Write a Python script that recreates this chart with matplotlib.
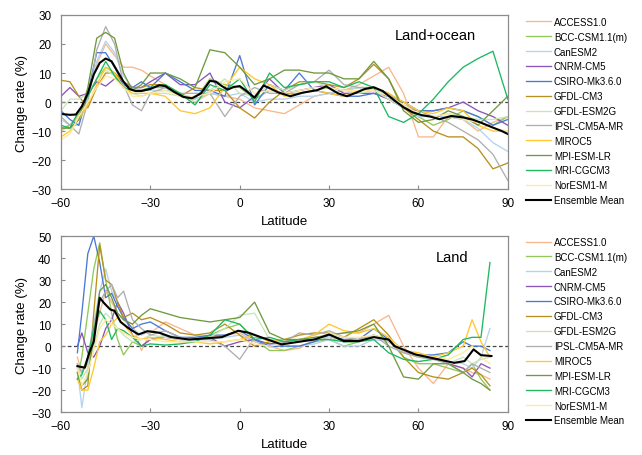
import numpy as np
import matplotlib
matplotlib.use("Agg")
import matplotlib.pyplot as plt

plt.rcParams['font.family'] = ['Liberation Sans', 'DejaVu Sans']


# ************************************************************
# Data: Land+ocean (top panel)
# ************************************************************

lat_lo = [-60, -57, -54, -51, -48, -45, -42, -39, -36, -33, -30,
          -25, -20, -15, -10, -5, 0, 5, 10, 15, 20, 25, 30, 35, 40,
          45, 50, 55, 60, 65, 70, 75, 80, 85, 90]

access_lo = [-10, -8, -5, 2, 13, 20, 16, 12, 12, 11, 9,
             6, 3, 0, 3, 2, 1, -2, -3, -4, -1, 2, 3, 4, 6,
             9, 12, 3, -12, -12, -5, -6, -10, -7, -5]
bcc_lo = [-9, -8, -4, 2, 8, 12, 10, 6, 4, 4, 5,
          5, 2, 1, 8, 6, 5, 1, 4, 3, 3, 4, 5, 4, 5,
          5, 2, -2, -5, -8, -6, -3, -5, -8, -5]
canesm_lo = [-6, -8, -8, 2, 14, 21, 17, 9, 5, 4, 4,
             4, 3, 1, 3, 2, 3, 0, 1, 1, 2, 2, 3, 4, 5,
             4, 3, -1, -5, -5, -5, -6, -9, -14, -17]
cnrm_lo = [2, 5, 2, 3, 7, 5.5, 8, 7, 5, 5, 7,
           10, 6, 6, 10, 0, -2, 2, 8, 3, 4, 5, 6, 3, 3,
           3, 1, -2, -3, -3, -2, 0, -3, -5, -8]
csiro_lo = [-3, -6, -8, 3, 17, 17, 12, 6, 5, 7, 5,
            10, 7, 4, 4, 2, 16, -1, 6, 4, 10, 4, 3, 2, 2,
            3, 2, 0, -3, -3, -2, -3, -5, -8, -6]
gfdlcm3_lo = [7.5, 7, 2, -2, 5, 10, 10, 7, 5, 5, 6,
              6, 2, 5, 4, 4, -2, -5.5, 0, 4, 7, 7, 6, 5, 8,
              13, 8, -2, -6, -10, -12, -12, -16, -23, -21]
gfdlesm_lo = [-3, 1, 1, 3, 8, 11, 9, 5, 3, 2, 3,
              3, 2, 0, 4, 8, 3, 2, 6, 4, 6, 7, 5, 4, 3,
              4, 1, -2, -4, -5, -4, -5, -6, -6, -5]
ipsl_lo = [-5, -8, -11, 0, 18, 26, 20, 6, -1, -3, 3,
           5, 3, 3, 3, -5, 2, 5, 3, 3, 6, 7, 11, 6, 5,
           5, 3, -1, -3, -5, -7, -10, -13, -18, -27]
miroc_lo = [-12, -10, -6, -1, 6, 12, 10, 5, 3, 3, 3,
            2, -3, -4, -2, 5, 12, 8, 6, 2, 3, 4, 3, 2, 4,
            5, 3, 0, -3, -4, -2, -3, -8, -10, -10]
mpi_lo = [-9, -9, -6, 5, 22, 24, 22, 10, 4, 6, 10,
          10, 8, 5, 18, 17, 12, 6, 8, 11, 11, 10, 10, 8, 8,
          14, 8, -3, -7, -6, -3, -5, -8, -3, 2]
mri_lo = [-8, -9, -3, 2, 8, 14, 9, 5, 4, 4, 5,
          6, 3, -1, 6, 4, 8, 0, 10, 5, 6, 7, 7, 5, 7,
          5, -5, -7, -4, 1, 7, 12, 15, 17.5, 1]
noresm_lo = [-13, -11, -5, 0, 5, 9, 8, 5, 2, 2, 3,
             4, 2, 2, 3, 7, 8, 3, 4, 3, 4, 5, 5, 4, 4,
             4, 2, -1, -4, -5, -4, -6, -7, -9, -10]

lat_mean_lo = [-60, -57, -55, -53, -51, -49, -47, -45, -43, -41, -39,
               -37, -35, -33, -30, -27, -25, -22, -19, -16, -13, -10,
               -8, -6, -4, -2, 0, 2, 5, 8, 10, 13, 17, 21, 26, 29,
               33, 36, 39, 42, 45, 48, 52, 55, 58, 61, 64, 67, 71,
               75, 78, 81, 85, 88, 90]
mean_lo = [-4.1, -4.4, -4.3, -1.5, 3, 9.5, 13.5, 15, 14, 10.5, 7,
           4.5, 3.8, 3.8, 4.5, 5.8, 5.5, 3.5, 1.8, 1.3, 3, 7.3,
           7, 5.5, 4.3, 5.2, 5.5, 4, 1.5, 5.7, 4.8, 3.3, 2, 3.2, 4.1, 5.4,
           3, 2, 3.2, 4.5, 5.1, 3.8, 0.5, -1.8, -3.5, -4.5, -5, -5.9, -4.8,
           -5.3, -6, -7.1, -8.8, -10, -11]


# ************************************************************
# Data: Land (bottom panel)
# ************************************************************

lat_land = [-54.5, -53, -51, -49, -47, -45, -43, -41, -39, -36, -33, -30,
            -25, -20, -15, -10, -5, 0, 5, 10, 15, 20, 25, 30, 35, 40,
            45, 50, 55, 60, 65, 70, 75, 78, 81, 84]

access_land = [-5, -12, -8, 5, 15, 25, 20, 15, 12, 10, -2, 6,
               11, 8, 5, 4, 5, 6, 2, 0, -2, -1, 3, 5, 6, 6,
               10, 14, 0, -10, -17, -8, -10, -12, -13, -15]
bcc_land = [-15, -5, 15, 35, 47, 30, 15, 3, -4, 2, 0, 3,
            5, 3, 3, 5, 8, 10, 3, -2, -2, 0, 2, 3, 0, 2,
            5, 3, -5, -8, -8, -10, -12, -8, -15, -20]
canesm_land = [-10, -28, -10, 10, 25, 35, 25, 20, 12, 8, 5, 7,
               5, 4, 3, 3, 4, 5, 2, 1, 0, 0, 1, 3, 0, 0,
               3, 2, -2, -5, -5, -7, -8, -10, -5, 8]
cnrm_land = [0, 6, -3, -5, 0, 8, 12, 20, 15, 5, 0, 3,
             4, 3, 3, 4, 0, 2, 3, 1, 2, 3, 3, 4, 2, 3,
             5, 2, -3, -4, -5, -8, -10, -14, -8, -10]
csiro_land = [-3, 15, 42, 50, 38, 22, 24, 18, 13, 8, 10, 11,
              7, 4, 4, 5, 5, 7, 3, 0, 0, 0, 2, 5, 3, 3,
              8, 3, -2, -4, -4, -3, 2, 0, 0, -2]
gfdlcm3_land = [-12, -20, -18, 15, 46, 30, 28, 20, 13, 15, 12, 13,
                10, 6, 5, 6, 10, 5, 0, 2, 3, 5, 6, 6, 4, 8,
                12, 5, -5, -12, -14, -15, -12, -10, -13, -18]
gfdlesm_land = [-8, -15, -10, 0, 10, 15, 12, 8, 5, 2, 3, 5,
                4, 3, 3, 4, 8, 14, 15, 3, 1, 2, 3, 4, 2, 3,
                5, 2, -3, -5, -6, -8, -5, -8, -6, -5]
ipsl_land = [-8, -12, -5, 10, 20, 25, 28, 22, 25, 12, 8, 5,
             7, 4, 3, 3, 0, -6, 4, 3, 2, 6, 5, 7, 4, 3,
             5, 0, -3, -5, -6, -8, -12, -8, -10, -12]
miroc_land = [-15, -20, -20, -10, 2, 5, 10, 13, 10, 5, 3, 4,
              3, 2, 2, 1, 2, 3, 5, 2, 3, 3, 5, 10, 7, 6,
              8, 4, -2, -3, -5, -3, 0, 12, 2, -5]
mpi_land = [-12, -18, -15, 5, 25, 28, 22, 15, 12, 10, 14, 17,
            15, 13, 12, 11, 12, 13, 20, 6, 3, 3, 4, 5, 6, 7,
            10, 0, -14, -15, -8, -8, -12, -15, -17, -20]
mri_land = [-15, -13, -5, 8, 16, 12, 3, 8, 7, 4, 0, 1,
            0.5, 1, 2, 5, 12, 10, 3, 4, 2, 3, 3, 3, 2, 2,
            3, -3, -6, -7, -6, -4, 3, 4, 4, 38]
noresm_land = [-10, -18, -12, -2, 8, 12, 10, 8, 6, 4, 3, 3,
               2, 2, 2, 2, 2, 3, 1, 0, 1, 2, 3, 6, 4, 4,
               5, 3, -2, -4, -5, -6, -3, 0, -5, -8]

lat_mean_land = [-54.5, -52, -50.5, -49, -47, -45.5, -43.5, -42, -40, -37.5,
                 -34, -31, -27, -23, -17, -12, -6, -0.5, 3, 7, 14, 20,
                 25, 30, 35, 40, 45, 50, 52, 59, 67, 72, 75.5, 78.5, 81, 84.5]
mean_land = [-9.1, -9.8, -3, 2, 22, 19.5, 16.7, 16, 11, 8.3,
             5.3, 6.8, 6.1, 4.1, 3, 3.5, 4.1, 7, 6.1, 4.1, 0.8, 2,
             3, 5.3, 2.3, 2.3, 4.1, 3, 0, -3.8, -6.1, -7.6, -6.8, -1.5, -4.1, -4.5]


# ************************************************************
# Models
# ************************************************************

model_names = ['ACCESS1.0', 'BCC-CSM1.1(m)', 'CanESM2', 'CNRM-CM5',
               'CSIRO-Mk3.6.0', 'GFDL-CM3', 'GFDL-ESM2G', 'IPSL-CM5A-MR',
               'MIROC5', 'MPI-ESM-LR', 'MRI-CGCM3', 'NorESM1-M']

model_colors = ['#F8B88B', '#92C85A', '#B4D3EE', '#8A55B8',
                '#4A78D6', '#B8901C', '#C8E6B8', '#AFAFAF',
                '#FFC82E', '#6F9A3E', '#1DB860', '#FFE9A0']

series_lo = [access_lo, bcc_lo, canesm_lo, cnrm_lo, csiro_lo, gfdlcm3_lo,
             gfdlesm_lo, ipsl_lo, miroc_lo, mpi_lo, mri_lo, noresm_lo]

series_land = [access_land, bcc_land, canesm_land, cnrm_land, csiro_land,
               gfdlcm3_land, gfdlesm_land, ipsl_land, miroc_land, mpi_land,
               mri_land, noresm_land]


# ************************************************************
# Figure
# ************************************************************

fig = plt.figure(figsize=(6.42, 4.56), dpi=100)

ax1 = fig.add_axes([0.095, 0.583, 0.696, 0.382])
ax2 = fig.add_axes([0.095, 0.094, 0.696, 0.386])

panels = [
    (ax1, lat_lo, series_lo, lat_mean_lo, mean_lo, (-30, 30), 10,
     'Land+ocean', (0.838, 0.885), 0.961),
    (ax2, lat_land, series_land, lat_mean_land, mean_land, (-30, 50), 10,
     'Land', (0.875, 0.88), 0.478),
]

for ax, lat, series, lat_m, mean, ylim, ystep, title, tpos, legy in panels:

    for name, color, values in zip(model_names, model_colors, series):
        ax.plot(lat, values, color=color, lw=0.95, label=name)

    ax.plot(lat_m, mean, color='black', lw=1.5, label='Ensemble Mean')

    ax.axhline(0, color='#444444', lw=0.9, ls=(0, (3, 2)), zorder=1)

    ax.set_xlim(-60, 90)
    ax.set_ylim(*ylim)
    ax.set_xticks(np.arange(-60, 91, 30))
    ax.set_yticks(np.arange(ylim[0], ylim[1] + 1, ystep))

    for side in ['left', 'right', 'top', 'bottom']:
        ax.spines[side].set_color('#8C8C8C')
        ax.spines[side].set_linewidth(0.9)

    ax.tick_params(direction='in', length=3, width=0.8, color='#8C8C8C',
                   labelsize=8.5)
    ax.tick_params(axis='x', pad=6)
    ax.tick_params(axis='y', pad=7)

    ax.set_xlabel('Latitude', fontsize=9.5, labelpad=4)
    ax.set_ylabel('Change rate (%)', fontsize=9.5, labelpad=2)

    ax.text(tpos[0], tpos[1], title, transform=ax.transAxes,
            ha='center', va='center', fontsize=10.5)

    ax.legend(loc='upper left', bbox_to_anchor=(0.819, legy),
              bbox_transform=fig.transFigure, frameon=False, fontsize=7,
              handlelength=2.6, handletextpad=0.3, labelspacing=0.5,
              borderpad=0, borderaxespad=0)

fig.savefig('out.png', dpi=100)
